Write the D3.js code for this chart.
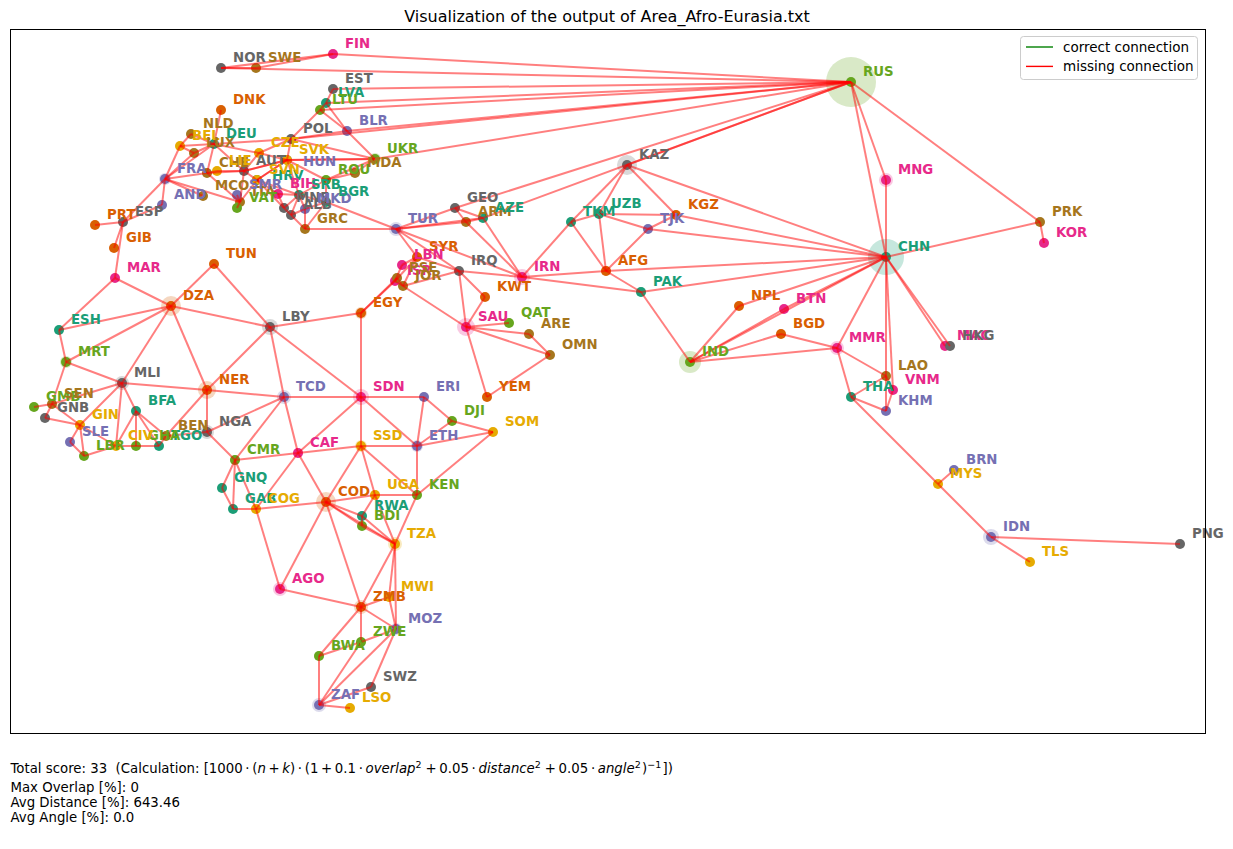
<!DOCTYPE html>
<html>
<head>
<meta charset="utf-8">
<script src="https://cdnjs.cloudflare.com/ajax/libs/d3/7.8.5/d3.min.js"></script>
<style>
  body { margin: 0; background: #fff; }
  text { font-family: "DejaVu Sans", sans-serif; fill: #000; white-space: pre; }
</style>
</head>
<body>
<div id="app"></div>
<script>
// countries (same order in every array)
const codes = [
  'RUS','FIN','NOR','SWE','EST','LVA','LTU','BLR','POL','DNK',
  'NLD','BEL','LUX','DEU','CZE','HUN','SVK','FRA','AND','MCO',
  'ESP','PRT','GIB','CHE','LIE','AUT','HRV','SVN','ITA','SMR',
  'VAT','BIH','SRB','MNE','ALB','MKD','BGR','ROU','MDA','UKR',
  'GRC','TUR','GEO','ARM','AZE','SYR','LBN','ISR','PSE','JOR',
  'IRQ','IRN','KWT','SAU','QAT','ARE','OMN','YEM','EGY','KAZ',
  'TKM','UZB','TJK','KGZ','AFG','PAK','IND','NPL','BTN','BGD',
  'MMR','LAO','VNM','THA','KHM','MNG','CHN','PRK','KOR','MAC',
  'HKG','BRN','MYS','IDN','TLS','PNG','MAR','DZA','TUN','LBY',
  'ESH','MRT','MLI','NER','TCD','SDN','ERI','DJI','SOM','ETH',
  'SSD','CAF','CMR','NGA','BEN','TGO','GHA','CIV','BFA','LBR',
  'SLE','GIN','GNB','GMB','SEN','GNQ','GAB','COG','COD','UGA',
  'KEN','RWA','BDI','TZA','ZMB','MWI','MOZ','ZWE','BWA','SWZ',
  'ZAF','LSO','AGO',
];
const posX = [
  851,333,221,256,333,326,320,347,291,221,
  191,180,194,214,259,287,287,165,162,203,
  123,95,114,207,217,244,257,257,240,237,
  237,278,299,284,291,305,326,326,355,375,
  305,396,455,466,483,417,402,395,397,403,
  459,522,485,466,509,529,550,487,361,627,
  571,599,648,676,606,641,690,739,784,781,
  837,886,893,851,886,886,886,1040,1044,945,
  950,954,938,991,1030,1180,115,171,214,270,
  59,66,122,207,284,361,424,452,493,417,
  361,298,235,207,166,159,136,116,136,84,
  70,80,45,34,52,222,233,256,326,375,
  417,362,362,395,361,389,396,361,319,371,
  319,350,280,
];
const posY = [
  82,54,68,68,89,103,110,131,139,110,
  134,146,153,144,153,160,160,179,205,196,
  222,225,248,173,171,171,180,180,202,195,
  208,194,195,208,215,209,202,180,173,159,
  229,229,208,222,218,257,265,281,278,286,
  271,277,297,327,323,334,355,397,313,165,
  222,214,229,215,271,292,362,306,309,334,
  348,376,390,397,411,180,257,222,243,346,
  346,470,484,537,562,544,278,306,264,327,
  330,362,383,390,397,397,397,421,432,446,
  446,453,460,432,436,446,446,446,411,456,
  442,425,418,407,404,488,509,509,502,495,
  495,516,526,544,607,597,629,642,656,687,
  705,708,589,
];
// colour class of each country
const colourClass = [
  4,3,7,6,7,0,4,2,7,1,
  6,5,6,0,5,2,5,2,2,6,
  7,1,1,6,5,7,0,5,6,2,
  4,3,0,7,7,2,0,4,6,4,
  6,2,7,6,0,1,3,3,6,6,
  7,3,1,3,4,6,6,1,1,7,
  0,0,2,1,1,0,4,1,3,1,
  3,6,3,0,2,3,0,6,3,3,
  7,2,5,2,5,7,3,1,1,7,
  0,4,7,1,2,3,2,4,5,2,
  5,3,4,7,6,0,4,5,0,4,
  2,5,7,4,6,0,0,5,1,5,
  4,0,4,5,1,5,2,4,4,7,
  2,5,3,
];
// halo weight of each country
const haloWeight = [
  625,0,0,0,0,0,0,0,0,0,
  0,0,0,0,0,0,0,36,0,0,
  0,0,0,0,0,0,0,0,0,0,
  0,0,0,0,0,0,0,0,0,36,
  0,49,0,0,0,0,0,0,0,0,
  0,64,0,81,0,0,0,0,36,100,
  0,0,0,0,25,25,121,0,0,0,
  49,0,0,0,0,49,324,0,0,0,
  0,0,0,64,0,0,0,100,0,64,
  0,36,49,81,49,64,0,0,0,36,
  36,25,25,49,0,0,0,0,0,0,
  0,25,0,0,0,0,0,25,100,25,
  0,0,0,49,49,0,36,0,25,0,
  49,0,49,
];
const borders = [
  'RUS-FIN','RUS-NOR','RUS-EST','RUS-LVA','RUS-LTU','RUS-POL','RUS-BLR','RUS-UKR','RUS-GEO','RUS-AZE',
  'RUS-KAZ','RUS-MNG','RUS-CHN','RUS-PRK','NOR-SWE','NOR-FIN','SWE-FIN','EST-LVA','LVA-LTU','LVA-BLR',
  'LTU-BLR','LTU-POL','POL-BLR','POL-UKR','POL-DEU','POL-CZE','POL-SVK','BLR-UKR','DEU-DNK','DEU-NLD',
  'DEU-BEL','DEU-LUX','DEU-FRA','DEU-CHE','DEU-AUT','DEU-CZE','NLD-BEL','BEL-LUX','BEL-FRA','LUX-FRA',
  'FRA-CHE','FRA-ITA','FRA-ESP','FRA-AND','FRA-MCO','ESP-AND','ESP-PRT','ESP-GIB','ESP-MAR','CHE-ITA',
  'CHE-AUT','CHE-LIE','AUT-LIE','AUT-CZE','AUT-SVK','AUT-HUN','AUT-SVN','AUT-ITA','ITA-SVN','ITA-SMR',
  'ITA-VAT','SVN-HRV','SVN-HUN','HRV-HUN','HRV-BIH','HRV-SRB','HRV-MNE','BIH-SRB','BIH-MNE','SRB-HUN',
  'SRB-ROU','SRB-BGR','SRB-MKD','SRB-ALB','SRB-MNE','MNE-ALB','ALB-MKD','ALB-GRC','MKD-GRC','MKD-BGR',
  'BGR-GRC','BGR-ROU','BGR-TUR','GRC-TUR','HUN-SVK','HUN-UKR','HUN-ROU','SVK-CZE','SVK-UKR','ROU-UKR',
  'ROU-MDA','MDA-UKR','TUR-GEO','TUR-ARM','TUR-AZE','TUR-IRN','TUR-IRQ','TUR-SYR','GEO-ARM','GEO-AZE',
  'ARM-AZE','ARM-IRN','AZE-IRN','SYR-LBN','SYR-ISR','SYR-JOR','SYR-IRQ','LBN-ISR','ISR-JOR','ISR-PSE',
  'ISR-EGY','PSE-JOR','PSE-EGY','JOR-IRQ','JOR-SAU','IRQ-IRN','IRQ-KWT','IRQ-SAU','KWT-SAU','SAU-QAT',
  'SAU-ARE','SAU-OMN','SAU-YEM','OMN-ARE','OMN-YEM','IRN-TKM','IRN-AFG','IRN-PAK','KAZ-TKM','KAZ-UZB',
  'KAZ-KGZ','KAZ-CHN','TKM-UZB','TKM-AFG','UZB-AFG','UZB-TJK','UZB-KGZ','TJK-KGZ','TJK-AFG','TJK-CHN',
  'KGZ-CHN','AFG-PAK','AFG-CHN','PAK-CHN','PAK-IND','IND-CHN','IND-NPL','IND-BTN','IND-BGD','IND-MMR',
  'NPL-CHN','BTN-CHN','BGD-MMR','MMR-CHN','MMR-LAO','MMR-THA','LAO-CHN','VNM-CHN','LAO-VNM','LAO-KHM',
  'LAO-THA','THA-KHM','VNM-KHM','THA-MYS','MYS-BRN','MYS-IDN','IDN-TLS','IDN-PNG','CHN-MNG','CHN-PRK',
  'PRK-KOR','CHN-HKG','CHN-MAC','MAR-DZA','MAR-ESH','ESH-DZA','ESH-MRT','DZA-TUN','DZA-LBY','DZA-NER',
  'DZA-MLI','DZA-MRT','TUN-LBY','LBY-NER','LBY-TCD','LBY-SDN','LBY-EGY','EGY-SDN','MRT-MLI','MRT-SEN',
  'MLI-SEN','MLI-GIN','MLI-CIV','MLI-BFA','MLI-NER','SEN-GMB','SEN-GNB','SEN-GIN','GNB-GIN','GIN-SLE',
  'GIN-LBR','GIN-CIV','SLE-LBR','LBR-CIV','CIV-BFA','CIV-GHA','GHA-BFA','GHA-TGO','TGO-BFA','TGO-BEN',
  'BEN-BFA','BEN-NER','BEN-NGA','NGA-NER','NGA-TCD','NGA-CMR','NER-TCD','TCD-CMR','TCD-CAF','TCD-SDN',
  'CMR-CAF','CMR-GNQ','CMR-GAB','CMR-COG','GNQ-GAB','GAB-COG','COG-CAF','COG-COD','COG-AGO','CAF-SDN',
  'CAF-SSD','CAF-COD','SDN-SSD','SDN-ERI','SDN-ETH','ERI-ETH','ERI-DJI','DJI-ETH','DJI-SOM','ETH-SOM',
  'ETH-SSD','ETH-KEN','KEN-SOM','KEN-SSD','KEN-UGA','KEN-TZA','SSD-UGA','SSD-COD','UGA-COD','UGA-RWA',
  'UGA-TZA','RWA-COD','RWA-BDI','RWA-TZA','BDI-COD','BDI-TZA','COD-TZA','COD-ZMB','COD-AGO','AGO-ZMB',
  'TZA-ZMB','TZA-MWI','TZA-MOZ','ZMB-MWI','ZMB-MOZ','ZMB-ZWE','ZMB-BWA','MWI-MOZ','MOZ-ZWE','MOZ-ZAF',
  'MOZ-SWZ','ZWE-BWA','ZWE-ZAF','BWA-ZAF','ZAF-SWZ','ZAF-LSO',
];
const legendLabels = ['correct connection', 'missing connection'];
const statLines = ['Max Overlap [%]: 0', 'Avg Distance [%]: 643.46', 'Avg Angle [%]: 0.0'];

const width = 1233;
const height = 849;
const palette = ['#1b9e77', '#d95f02', '#7570b3', '#e7298a', '#66a61e', '#e6ab02', '#a6761d', '#666666'];
// these two labels sit away from their hidden markers
const labelShift = { HUN: [4, 12], HRV: [3, 6] };

const nodes = codes.map((code, i) => ({
  code, x: posX[i], y: posY[i], group: colourClass[i], weight: haloWeight[i],
}));
const byCode = new Map(nodes.map((d) => [d.code, d]));
const links = borders.map((b) => b.split('-').map((c) => byCode.get(c)));

const svg = d3.select('#app').append('svg').attr('width', width).attr('height', height);

// the picture's coordinates are the data space, so the scales just pin it to the frame
const xScale = d3.scaleLinear().domain([10.5, 1205.5]).range([10.5, 1205.5]);
const yScale = d3.scaleLinear().domain([29.5, 733.5]).range([29.5, 733.5]);
const colour = d3.scaleOrdinal().domain(d3.range(8)).range(palette);
const haloSize = d3.scaleSqrt().domain([0, 625]).range([0, 25]);

svg.append('text').attr('x', 607).attr('y', 22).attr('text-anchor', 'middle')
  .style('font-size', '16px').text('Visualization of the output of Area_Afro-Eurasia.txt');

svg.append('g').selectAll('circle').data(nodes.filter((d) => d.weight > 0)).join('circle')
  .attr('cx', (d) => xScale(d.x)).attr('cy', (d) => yScale(d.y))
  .attr('r', (d) => haloSize(d.weight))
  .attr('fill', (d) => colour(d.group)).attr('fill-opacity', 0.25);

svg.append('g').selectAll('circle').data(nodes).join('circle')
  .attr('cx', (d) => xScale(d.x)).attr('cy', (d) => yScale(d.y))
  .attr('r', 5).attr('fill', (d) => colour(d.group));

svg.append('g').selectAll('line').data(links).join('line')
  .attr('x1', (d) => xScale(d[0].x)).attr('y1', (d) => yScale(d[0].y))
  .attr('x2', (d) => xScale(d[1].x)).attr('y2', (d) => yScale(d[1].y))
  .attr('stroke', 'red').attr('stroke-opacity', 0.5).attr('stroke-width', 2);

svg.append('g').selectAll('text').data(nodes).join('text')
  .attr('x', (d) => xScale(d.x) + 12 + (labelShift[d.code] ? labelShift[d.code][0] : 0))
  .attr('y', (d) => yScale(d.y) - 6.5 + (labelShift[d.code] ? labelShift[d.code][1] : 0))
  .style('font-size', '13.3px').style('font-weight', 'bold')
  .style('fill', (d) => colour(d.group)).text((d) => d.code);

// frame
svg.append('rect').attr('x', 10.5).attr('y', 29.5).attr('width', 1195).attr('height', 704)
  .attr('fill', 'none').attr('stroke', '#000').attr('stroke-width', 1);

// legend
const legend = svg.append('g');
legend.append('rect').attr('x', 1020.5).attr('y', 36.5).attr('width', 177).attr('height', 43).attr('rx', 3)
  .attr('fill', '#fff').attr('fill-opacity', 0.8).attr('stroke', '#ccc');
legendLabels.forEach((label, i) => {
  const y = 47 + i * 19.4;
  legend.append('line').attr('x1', 1026).attr('x2', 1053).attr('y1', y).attr('y2', y)
    .attr('stroke', i === 0 ? 'green' : 'red').attr('stroke-width', 1.4);
  legend.append('text').attr('x', 1063).attr('y', y + 4.5).style('font-size', '13.5px').text(label);
});

// score line, with the formula set like math text
const score = svg.append('text').attr('x', 10.5).attr('y', 773).style('font-size', '13.3px');
const plain = (s) => score.append('tspan').text(s);
const ital = (s) => score.append('tspan').style('font-style', 'italic').text(s);
const sup = (s) => {
  score.append('tspan').attr('dy', -5).style('font-size', '9.5px').text(s);
  score.append('tspan').attr('dy', 5).text('\u200a');
};
plain('Total score: 33  (Calculation: [1000\u2009\u00b7\u2009(');
ital('n');
plain('\u2009+\u2009');
ital('k');
plain(')\u2009\u00b7\u2009(1\u2009+\u20090.1\u2009\u00b7\u2009');
ital('overlap');
sup('2');
plain('\u2009+\u20090.05\u2009\u00b7\u2009');
ital('distance');
sup('2');
plain('\u2009+\u20090.05\u2009\u00b7\u2009');
ital('angle');
sup('2');
plain(')');
sup('\u22121');
plain('])');

statLines.forEach((line, i) => {
  svg.append('text').attr('x', 10.5).attr('y', 792 + i * 15).style('font-size', '13.3px').text(line);
});
</script>
</body>
</html>
